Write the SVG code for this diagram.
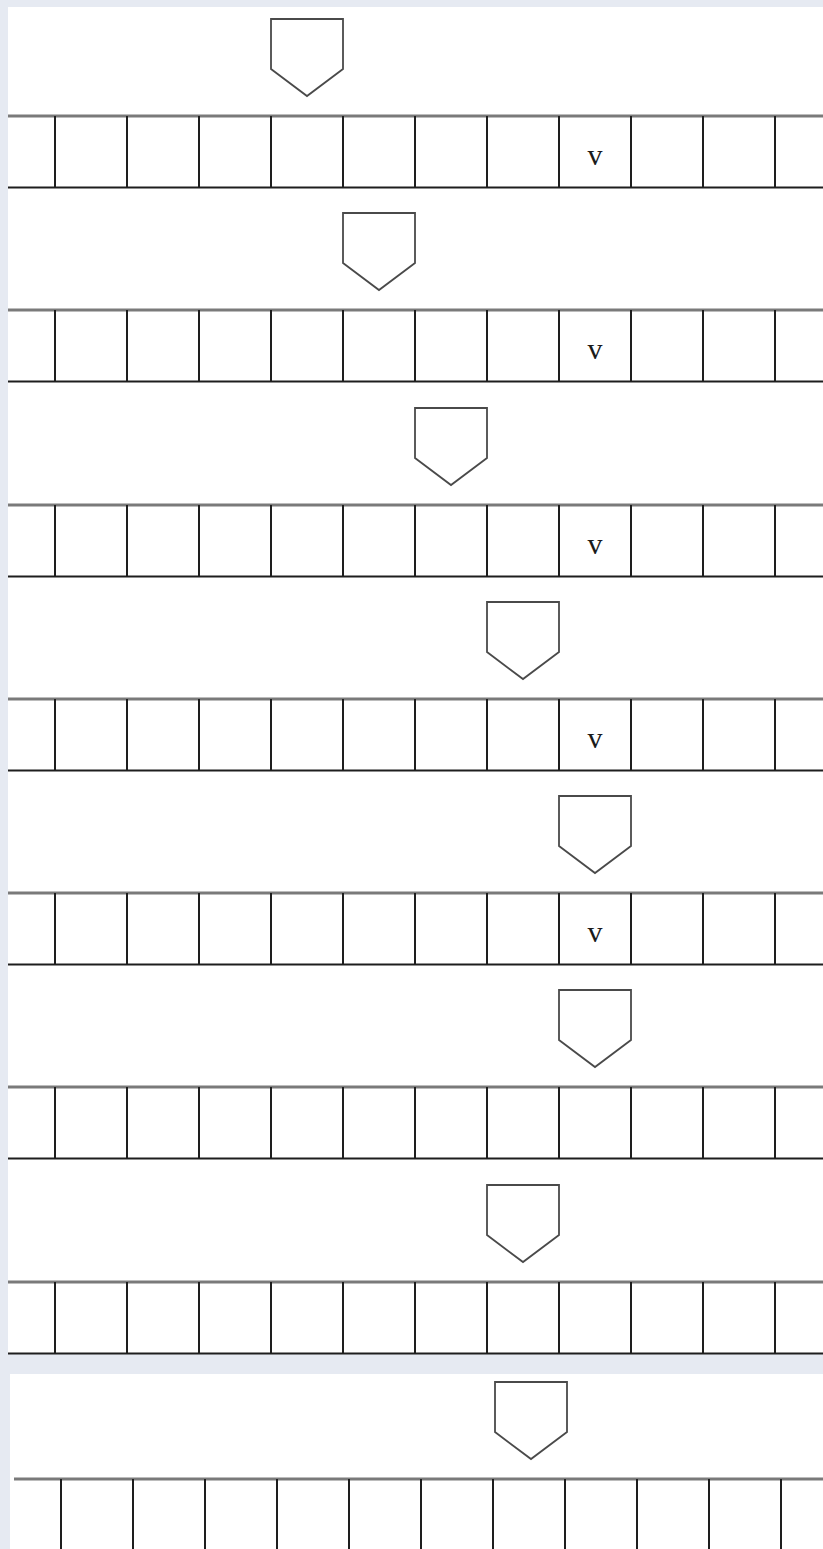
<svg xmlns="http://www.w3.org/2000/svg" xmlns:xlink="http://www.w3.org/1999/xlink" width="823" height="1549" viewBox="0 0 823 1549">
<style>
.bg{fill:#e6eaf2}
.panel{fill:#ffffff}
.top{stroke:#7a7a7a;stroke-width:3;fill:none}
.bot{stroke:#1e1e1e;stroke-width:2;fill:none}
.vl{stroke:#1e1e1e;stroke-width:2;fill:none}
.pent{fill:#ffffff;stroke:#4a4a4a;stroke-width:1.8;stroke-linejoin:miter}
.lbl{font-family:"Liberation Serif","DejaVu Serif",serif;font-size:30px;fill:#1a1a1a;text-anchor:middle}
</style>
<defs>
<g id="cells">
<line class="top" x1="0" y1="0" x2="815" y2="0"/>
<line class="bot" x1="0" y1="71.5" x2="815" y2="71.5"/>
<line class="vl" x1="47" y1="0" x2="47" y2="71.5"/>
<line class="vl" x1="119" y1="0" x2="119" y2="71.5"/>
<line class="vl" x1="191" y1="0" x2="191" y2="71.5"/>
<line class="vl" x1="263" y1="0" x2="263" y2="71.5"/>
<line class="vl" x1="335" y1="0" x2="335" y2="71.5"/>
<line class="vl" x1="407" y1="0" x2="407" y2="71.5"/>
<line class="vl" x1="479" y1="0" x2="479" y2="71.5"/>
<line class="vl" x1="551" y1="0" x2="551" y2="71.5"/>
<line class="vl" x1="623" y1="0" x2="623" y2="71.5"/>
<line class="vl" x1="695" y1="0" x2="695" y2="71.5"/>
<line class="vl" x1="767" y1="0" x2="767" y2="71.5"/>
</g>
<polygon id="pentShape" class="pent" points="0,0 72,0 72,50 36,77 0,50"/>
</defs>
<rect class="bg" x="0" y="0" width="823" height="1549"/>
<rect class="panel" x="8" y="7" width="815" height="1347"/>
<rect class="panel" x="10" y="1374" width="813" height="175"/>

<g id="connectors"></g>

<g id="row1"><use xlink:href="#cells" x="8" y="116"/><text class="lbl" x="595" y="165">v</text></g>
<g id="pointer1"><use xlink:href="#pentShape" x="271" y="19"/></g>

<g id="row2"><use xlink:href="#cells" x="8" y="310"/><text class="lbl" x="595" y="359">v</text></g>
<g id="pointer2"><use xlink:href="#pentShape" x="343" y="213"/></g>

<g id="row3"><use xlink:href="#cells" x="8" y="505"/><text class="lbl" x="595" y="554">v</text></g>
<g id="pointer3"><use xlink:href="#pentShape" x="415" y="408"/></g>

<g id="row4"><use xlink:href="#cells" x="8" y="699"/><text class="lbl" x="595" y="748">v</text></g>
<g id="pointer4"><use xlink:href="#pentShape" x="487" y="602"/></g>

<g id="row5"><use xlink:href="#cells" x="8" y="893"/><text class="lbl" x="595" y="942">v</text></g>
<g id="pointer5"><use xlink:href="#pentShape" x="559" y="796"/></g>

<g id="row6"><use xlink:href="#cells" x="8" y="1087"/></g>
<g id="pointer6"><use xlink:href="#pentShape" x="559" y="990"/></g>

<g id="row7"><use xlink:href="#cells" x="8" y="1282"/></g>
<g id="pointer7"><use xlink:href="#pentShape" x="487" y="1185"/></g>

<g id="row8"><use xlink:href="#cells" x="14" y="1479"/></g>
<g id="pointer8"><use xlink:href="#pentShape" x="495" y="1382"/></g>
</svg>
